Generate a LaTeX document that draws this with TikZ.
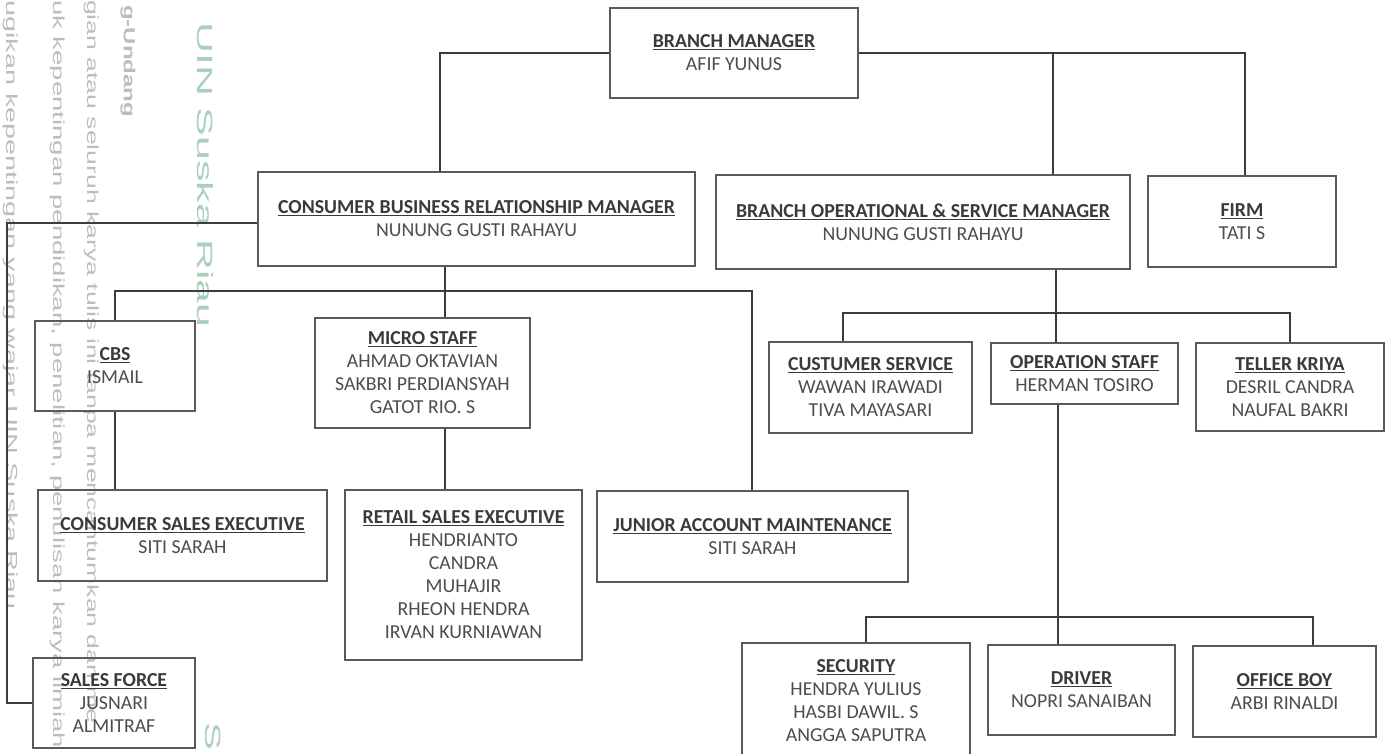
\documentclass[tikz,border=0pt]{standalone}
\usepackage{fontspec}
\usepackage{graphicx}
\setmainfont{Carlito}
\newfontfamily\wmfont{Liberation Sans}
\definecolor{boxc}{HTML}{5A5A5A}
\definecolor{linec}{HTML}{3C3C3C}
\definecolor{titlec}{HTML}{3A3A3A}
\definecolor{namec}{HTML}{4D4D4D}
\definecolor{wmgray}{HTML}{BDBDBD}
\definecolor{wmgreen}{HTML}{AACFBA}
\tikzset{
  unitbox/.style={draw=boxc, line width=1.4pt, inner sep=2pt, align=center,
    font=\fontsize{19.8}{23}\selectfont, text=namec},
  conn/.style={draw=linec, line width=1.2pt},
  wm/.style={rotate=-90, anchor=west, inner sep=0pt, text=wmgray,
    font=\wmfont\fontsize{16}{16}\selectfont},
  wmg/.style={rotate=-90, anchor=west, inner sep=0pt, text=wmgreen,
    font=\wmfont\fontsize{22}{22}\selectfont},
}
\newcommand{\ttl}[1]{\textcolor{titlec}{\underline{\textbf{#1}}}}
\begin{document}
\begin{tikzpicture}[x=1pt,y=-1pt]
\fill[white] (0,0) rectangle (1390,753);
\useasboundingbox (0,0) rectangle (1390,753);

% watermark
\node[wm] (w1) at (11,0) {\scalebox{1.8}[1]{ugikan kepentingan yang wajar UIN Suska Riau.}};
\node[wm] (w2) at (58,0) {\scalebox{1.72}[1]{uk kepentingan pendidikan, penelitian, penulisan karya ilmiah}};
\node[wm] (w3) at (92,0) {\scalebox{1.66}[1]{gian atau seluruh karya tulis ini tanpa mencantumkan dan me}};
\node[wm] (w4) at (128,5) {\scalebox{1.5}[1]{\bfseries g-Undang}};
\node[wmg] (w5) at (205,22) {\scalebox{1.95}[1]{UIN Suska Riau}};
\node[wmg] (w6) at (213,722) {\scalebox{1.9}[1]{S}};

% boxes
\node[unitbox, minimum width=248, minimum height=90] (bm) at (734,53) {\ttl{BRANCH MANAGER}\\AFIF YUNUS};
\node[unitbox, minimum width=437, minimum height=94] (cbrm) at (476.5,219) {\ttl{CONSUMER BUSINESS RELATIONSHIP MANAGER}\\NUNUNG GUSTI RAHAYU};
\node[unitbox, minimum width=414, minimum height=94] (bosm) at (923,222) {\ttl{BRANCH OPERATIONAL \& SERVICE MANAGER}\\NUNUNG GUSTI RAHAYU};
\node[unitbox, minimum width=188, minimum height=91] (firm) at (1242,221.5) {\ttl{FIRM}\\TATI S};
\node[unitbox, minimum width=160, minimum height=90] (cbs) at (115,366) {\ttl{CBS}\\ISMAIL};
\node[unitbox, minimum width=215, minimum height=110] (micro) at (422.5,373) {\ttl{MICRO STAFF}\\AHMAD OKTAVIAN\\SAKBRI PERDIANSYAH\\GATOT RIO. S};
\node[unitbox, minimum width=289, minimum height=91] (cse) at (182.5,535.5) {\ttl{CONSUMER SALES EXECUTIVE}\\SITI SARAH};
\node[unitbox, minimum width=237, minimum height=170] (rse) at (463.5,575) {\ttl{RETAIL SALES EXECUTIVE}\\HENDRIANTO\\CANDRA\\MUHAJIR\\RHEON HENDRA\\IRVAN KURNIAWAN};
\node[unitbox, minimum width=311, minimum height=91] (jam) at (752.5,536.5) {\ttl{JUNIOR ACCOUNT MAINTENANCE}\\SITI SARAH};
\node[unitbox, minimum width=162, minimum height=90] (sf) at (114,703) {\ttl{SALES FORCE}\\JUSNARI\\ALMITRAF};
\node[unitbox, minimum width=203, minimum height=91] (cs) at (870.5,387.5) {\ttl{CUSTUMER SERVICE}\\WAWAN IRAWADI\\TIVA MAYASARI};
\node[unitbox, minimum width=187, minimum height=61] (os) at (1084.5,373.5) {\ttl{OPERATION STAFF}\\HERMAN TOSIRO};
\node[unitbox, minimum width=188, minimum height=88] (tk) at (1290,387) {\ttl{TELLER KRIYA}\\DESRIL CANDRA\\NAUFAL BAKRI};
\node[unitbox, minimum width=228, minimum height=116] (sec) at (856,701) {\ttl{SECURITY}\\HENDRA YULIUS\\HASBI DAWIL. S\\ANGGA SAPUTRA};
\node[unitbox, minimum width=187, minimum height=90] (drv) at (1081.5,690) {\ttl{DRIVER}\\NOPRI SANAIBAN};
\node[unitbox, minimum width=183, minimum height=91] (ob) at (1284.5,691.5) {\ttl{OFFICE BOY}\\ARBI RINALDI};

% column / row helpers
\coordinate (c0) at (7,0);
\coordinate (ca) at (440,0);
\coordinate (cb) at (1053,0);
\coordinate (cc) at (1245,0);
\coordinate (cd) at (445,0);
\coordinate (ce) at (115,0);
\coordinate (cf) at (752,0);
\coordinate (cg) at (1056,0);
\coordinate (ch) at (843,0);
\coordinate (ci) at (1290,0);
\coordinate (cj) at (1058,0);
\coordinate (ck) at (866,0);
\coordinate (cl) at (1313,0);
\coordinate (h1) at (0,291);
\coordinate (h2) at (0,313);
\coordinate (h3) at (0,617);

% connectors
\draw[conn] (bm.west) -| (ca |- cbrm.north);
\draw[conn] (bm.east) -| (cc |- firm.north);
\draw[conn] (cb |- bm.east) -- (cb |- bosm.north);
\draw[conn] (cd |- cbrm.south) -- (cd |- micro.north);
\draw[conn] (ce |- cbs.north) |- (cf |- h1) -- (cf |- jam.north);
\draw[conn] (ce |- cbs.south) -- (ce |- cse.north);
\draw[conn] (cd |- micro.south) -- (cd |- rse.north);
\draw[conn] ([yshift=-4pt]cbrm.west) -| (c0 |- sf.west) -- (sf.west);
\draw[conn] (cg |- bosm.south) -- (cg |- os.north);
\draw[conn] (ch |- cs.north) |- (ci |- h2) -- (ci |- tk.north);
\draw[conn] (cj |- os.south) -- (cj |- drv.north);
\draw[conn] (ck |- sec.north) |- (cl |- h3) -- (cl |- ob.north);
\end{tikzpicture}
\end{document}
